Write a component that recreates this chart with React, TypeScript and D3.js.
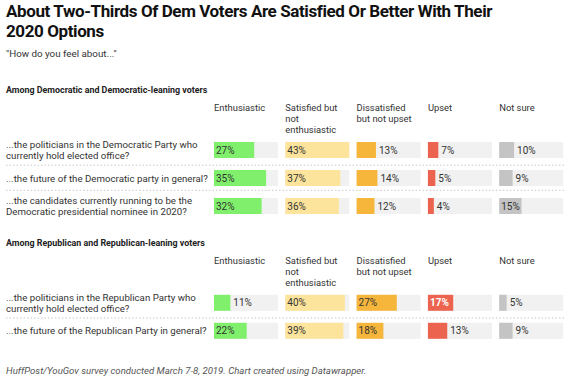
import React from "react";
import * as d3 from "d3";

const title = ["About Two-Thirds Of Dem Voters Are Satisfied Or Better With Their", "2020 Options"];
const subtitle = "\"How do you feel about...\"";
const footer = "HuffPost/YouGov survey conducted March 7-8, 2019. Chart created using Datawrapper.";

const columns = ["Enthusiastic", "Satisfied but not enthusiastic", "Dissatisfied but not upset", "Upset", "Not sure"];
const columnHeaderLines = [["Enthusiastic"], ["Satisfied but", "not", "enthusiastic"], ["Dissatisfied", "but not upset"], ["Upset"], ["Not sure"]];
const columnColors = ["#80f06c", "#fce49c", "#f5b63b", "#ec6450", "#c4c4c4"];

const demHeader = "Among Democratic and Democratic-leaning voters";
const demQuestions = [
  ["...the politicians in the Democratic Party who", "currently hold elected office?"],
  ["...the future of the Democratic party in general?"],
  ["...the candidates currently running to be the", "Democratic presidential nominee in 2020?"],
];
const demEnthusiastic = [27, 35, 32];
const demSatisfied = [43, 37, 36];
const demDissatisfied = [13, 14, 12];
const demUpset = [7, 5, 4];
const demNotSure = [10, 9, 15];

const repHeader = "Among Republican and Republican-leaning voters";
const repQuestions = [
  ["...the politicians in the Republican Party who", "currently hold elected office?"],
  ["...the future of the Republican Party in general?"],
];
const repEnthusiastic = [11, 22];
const repSatisfied = [40, 39];
const repDissatisfied = [27, 18];
const repUpset = [17, 13];
const repNotSure = [5, 9];

const FONT = "Roboto, 'Noto Sans', sans-serif";

const colX = [214, 285.3, 356.6, 427.9, 499.2];
const colW = 64;
const allVals = [...demEnthusiastic, ...demSatisfied, ...demDissatisfied, ...demUpset, ...demNotSure,
  ...repEnthusiastic, ...repSatisfied, ...repDissatisfied, ...repUpset, ...repNotSure];
const x = d3.scaleLinear().domain([0, d3.max(allVals) as number]).range([0, colW]);

function Section({ top, header, questions, series }: { top: number; header: string; questions: string[][]; series: number[][] }) {
  const headerY = top;
  const colHeadY = top + 18;
  const firstBar = top + 49;
  const rowStep = 28;
  const barH = 16;
  return (
    <g>
      <text x={6} y={headerY} fontSize={8.9} fontWeight={700} fill="#222" fontFamily={FONT}>{header}</text>
      {columnHeaderLines.map((lines, ci) => (
        <text key={ci} x={colX[ci]} y={colHeadY} fontSize={9.4} fill="#333" fontFamily={FONT}>
          {lines.map((l, li) => (
            <tspan key={li} x={colX[ci]} dy={li === 0 ? 0 : 11}>{l}</tspan>
          ))}
        </text>
      ))}
      {questions.map((q, ri) => {
        const y0 = firstBar + ri * rowStep;
        const cy = y0 + barH / 2;
        const sepGap = ri > 0 && questions[ri - 1].length > 1 ? 4.8 : 7.7;
        return (
          <g key={ri}>
            {ri > 0 && (
              <line x1={6} x2={564} y1={y0 - sepGap} y2={y0 - sepGap} stroke="#c8c8c8" strokeDasharray="1.5,2" strokeWidth={1} />
            )}
            <text fontSize={9.7} fill="#333" fontFamily={FONT}>
              {q.map((l, li) => (
                <tspan key={li} x={6} y={cy + 3.5 + (li - (q.length - 1) / 2) * 11.5}>{l}</tspan>
              ))}
            </text>
            {series.map((vals, ci) => {
              const v = vals[ri];
              const w = x(v);
              const inside = w > 21.5;
              const white = ci === 3 && inside;
              return (
                <g key={ci}>
                  <rect x={colX[ci]} y={y0} width={colW} height={barH} fill="#f1f1f1" />
                  <rect x={colX[ci]} y={y0} width={w} height={barH} fill={columnColors[ci]} />
                  <text
                    x={inside ? colX[ci] + 2 : colX[ci] + w + 3}
                    y={cy + 3.6}
                    fontSize={10}
                    fontWeight={white ? 700 : 400}
                    fill={white ? "#fff" : "#333"}
                    fontFamily={FONT}
                  >
                    {v}%
                  </text>
                </g>
              );
            })}
          </g>
        );
      })}
    </g>
  );
}

export default function App() {
  return (
    <div style={{ position: "absolute", left: 0, top: 0 }}>
      <svg width={572} height={380} style={{ display: "block", background: "#fff" }}>
        <text fontSize={17} fontWeight={700} fill="#111" fontFamily={FONT} letterSpacing={-0.4}>
          <tspan x={6} y={17.3}>{title[0]}</tspan>
          <tspan x={6} y={37.3}>{title[1]}</tspan>
        </text>
        <text x={6} y={57.3} fontSize={9.8} fill="#333" fontFamily={FONT}>{subtitle}</text>
        <Section top={93} header={demHeader} questions={demQuestions}
          series={[demEnthusiastic, demSatisfied, demDissatisfied, demUpset, demNotSure]} />
        <Section top={245.8} header={repHeader} questions={repQuestions}
          series={[repEnthusiastic, repSatisfied, repDissatisfied, repUpset, repNotSure]} />
        <text x={6} y={374.3} fontSize={9.6} fontStyle="italic" fill="#555" fontFamily={FONT}>{footer}</text>
      </svg>
    </div>
  );
}
